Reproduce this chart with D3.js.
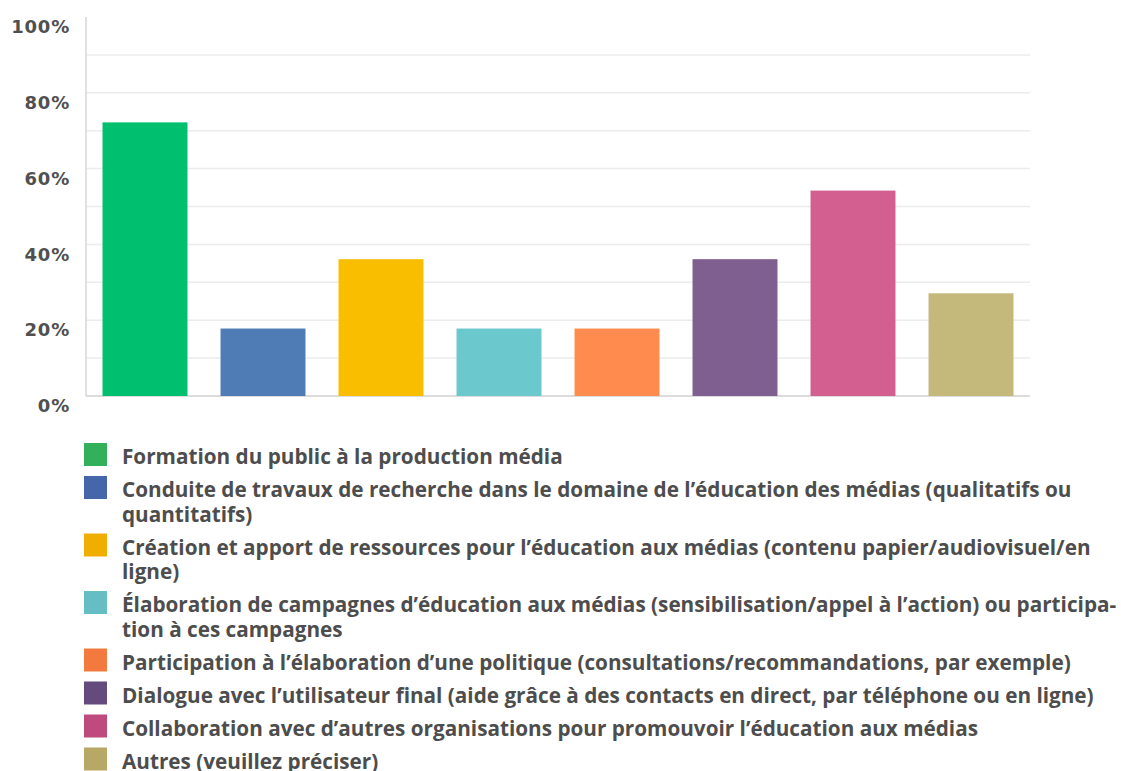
<!DOCTYPE html>
<html>
<head>
<meta charset="utf-8">
<script src="https://cdn.jsdelivr.net/npm/d3@7"></script>
<style>
  html, body { margin: 0; padding: 0; background: #ffffff; }
  svg { display: block; }
</style>
</head>
<body>
<svg id="chart" width="1121" height="771"></svg>
<script>
// ---- data ----
const categories = [
  "Formation du public à la production média",
  "Conduite de travaux de recherche dans le domaine de l’éducation des médias (qualitatifs ou quantitatifs)",
  "Création et apport de ressources pour l’éducation aux médias (contenu papier/audiovisuel/en ligne)",
  "Élaboration de campagnes d’éducation aux médias (sensibilisation/appel à l’action) ou participation à ces campagnes",
  "Participation à l’élaboration d’une politique (consultations/recommandations, par exemple)",
  "Dialogue avec l’utilisateur final (aide grâce à des contacts en direct, par téléphone ou en ligne)",
  "Collaboration avec d’autres organisations pour promouvoir l’éducation aux médias",
  "Autres (veuillez préciser)"
];
const legendLines = [
  ["Formation du public à la production média"],
  ["Conduite de travaux de recherche dans le domaine de l’éducation des médias (qualitatifs ou", "quantitatifs)"],
  ["Création et apport de ressources pour l’éducation aux médias (contenu papier/audiovisuel/en", "ligne)"],
  ["Élaboration de campagnes d’éducation aux médias (sensibilisation/appel à l’action) ou participa-", "tion à ces campagnes"],
  ["Participation à l’élaboration d’une politique (consultations/recommandations, par exemple)"],
  ["Dialogue avec l’utilisateur final (aide grâce à des contacts en direct, par téléphone ou en ligne)"],
  ["Collaboration avec d’autres organisations pour promouvoir l’éducation aux médias"],
  ["Autres (veuillez préciser)"]
];
const values = [72.2, 17.8, 36.1, 17.8, 17.8, 36.1, 54.2, 27.1];
const yTicks = [0, 20, 40, 60, 80, 100];
const yGrid = [10, 20, 30, 40, 50, 60, 70, 80, 90];

// ---- styles ----
const barColors = ["#00BF6F", "#507CB6", "#F9BE00", "#6BC8CD", "#FF8B4F", "#7F5F90", "#D25F90", "#C4B87A"];
const swatchColors = ["#33B05A", "#4566A8", "#F0AE00", "#65BEC4", "#F27A3E", "#654A7E", "#BE4A7E", "#B8A866"];

const svg = d3.select("#chart");

const plot = { left: 86, right: 1030, top: 17, bottom: 396 };

const x = d3.scaleBand()
  .domain(categories)
  .range([plot.left, plot.right])
  .paddingInner(0.28)
  .paddingOuter(0.14);

const y = d3.scaleLinear()
  .domain([0, 100])
  .range([plot.bottom, plot.top]);

// grid lines
svg.append("g")
  .selectAll("line")
  .data(yGrid)
  .join("line")
  .attr("x1", plot.left)
  .attr("x2", plot.right)
  .attr("y1", d => y(d))
  .attr("y2", d => y(d))
  .attr("stroke", "#ececec")
  .attr("stroke-width", 1.5);

// y axis line
svg.append("line")
  .attr("x1", plot.left).attr("x2", plot.left)
  .attr("y1", y(100)).attr("y2", y(0))
  .attr("stroke", "#d6d6d6").attr("stroke-width", 1.5);

// baseline
svg.append("line")
  .attr("x1", plot.left).attr("x2", plot.right)
  .attr("y1", y(0)).attr("y2", y(0))
  .attr("stroke", "#d0d0d0").attr("stroke-width", 1.5);

// y tick labels
const yAxis = d3.axisLeft(y).tickValues(yTicks).tickFormat(d => d + "%").tickSize(0).tickPadding(0);
const gy = svg.append("g")
  .attr("transform", `translate(70,10)`)
  .call(yAxis);
gy.select(".domain").remove();
gy.selectAll("text")
  .attr("fill", "#505050")
  .attr("font-family", "'DejaVu Sans', sans-serif")
  .attr("font-weight", "bold")
  .attr("font-size", "18px")
  .attr("letter-spacing", "0.8px");

// bars
svg.append("g")
  .selectAll("rect")
  .data(values)
  .join("rect")
  .attr("x", (d, i) => x(categories[i]))
  .attr("width", x.bandwidth())
  .attr("y", d => y(d))
  .attr("height", d => y(0) - y(d))
  .attr("fill", (d, i) => barColors[i]);

// legend
const legend = svg.append("g");
const legendX = 84, textX = 122, swatch = 23;
const singleStep = 33, lineH = 24.5;
let cy = 443;
const probe = legend.append("text")
  .attr("font-family", "'Open Sans', sans-serif")
  .attr("font-weight", 700)
  .attr("font-size", "22px")
  .text(legendLines[0][0]);
const natural = probe.node().getComputedTextLength();
probe.remove();
const squeeze = 441 / natural;

legendLines.forEach((lines, i) => {
  legend.append("rect")
    .attr("x", legendX).attr("y", cy)
    .attr("width", swatch).attr("height", swatch)
    .attr("fill", swatchColors[i]);
  lines.forEach((ln, j) => {
    legend.append("text")
      .attr("transform", `translate(${textX},${cy + 21 + j * lineH}) scale(${squeeze},1)`)
      .attr("font-family", "'Open Sans', sans-serif")
      .attr("font-weight", 700)
      .attr("font-size", "22px")
      .attr("fill", "#4d4d4d")
      .text(ln);
  });
  cy += singleStep + (lines.length - 1) * lineH;
});
</script>
</body>
</html>
